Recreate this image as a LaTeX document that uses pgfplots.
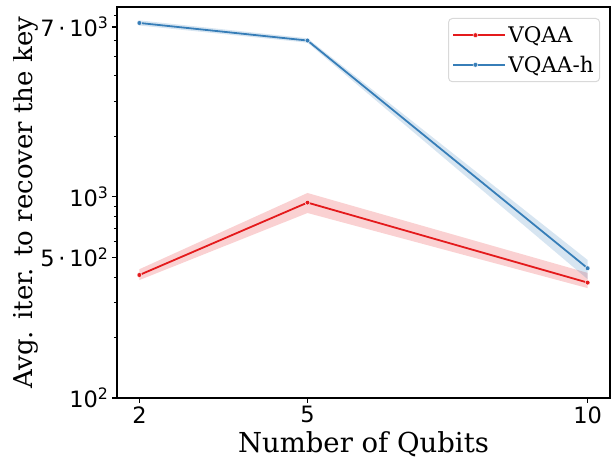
\documentclass[border=0pt]{standalone}
\usepackage{fontspec}
\setmainfont{DejaVu Serif}
\setsansfont{DejaVu Sans}
\usepackage{pgfplots}
\pgfplotsset{compat=1.18}
\definecolor{cred}{RGB}{228,26,28}
\definecolor{cblue}{RGB}{55,126,184}
\begin{document}
\begin{tikzpicture}
\begin{axis}[
  at={(0pt,0pt)}, anchor=south west, scale only axis,
  width=493pt, height=391pt,
  xmin=1.6, xmax=10.4, ymode=log, ymin=100, ymax=8800,
  xtick={2,5,10}, xticklabels={2,5,10},
  ytick={100,500,1000,7000},
  yticklabels={10\textsuperscript{2}, 5\,·\,10\textsuperscript{2}, 10\textsuperscript{3}, 7\,·\,10\textsuperscript{3}},
  minor ytick={200,300,400,600,700,800,900,2000,3000,4000,5000,6000,8000},
  tick align=outside, xtick pos=bottom, ytick pos=left,
  major tick length=5pt, minor tick length=3pt,
  every tick/.style={black, line width=1.1pt},
  minor tick style={line width=0.8pt},
  axis line style={line width=1.1pt},
  tick label style={font=\sffamily\fontsize{22.5}{27}\selectfont},
  xlabel={Number of Qubits}, ylabel={Avg. iter. to recover the key},
  xlabel style={font=\fontsize{27.5}{33}\selectfont, at={(axis description cs:0.5,0)}, anchor=base, yshift=-54pt},
  ylabel style={font=\fontsize{26}{31}\selectfont, at={(axis description cs:-0.1704,0.5)}, anchor=base},
  legend style={at={(0.98,0.972)}, anchor=north east, draw=black!15, rounded corners=4pt,
    line width=1pt, fill=white, font=\fontsize{21.5}{25}\selectfont,
    row sep=8pt, inner xsep=4pt, inner ysep=6pt},
  legend cell align=left,
  legend image code/.code={\path (0pt,0pt) -- (52pt,0pt);\draw[mark repeat=2,mark phase=2,#1] plot coordinates {(0pt,0pt) (22pt,0pt) (44pt,0pt)};},
]
\addplot[fill=cred, fill opacity=0.2, draw=none, forget plot] coordinates {(2,437) (5,1046) (10,419) (10,352) (5,832) (2,386)} -- cycle;
\addplot[fill=cblue, fill opacity=0.2, draw=none, forget plot] coordinates {(2,7550) (5,6150) (10,486) (10,390) (5,5850) (2,7120)} -- cycle;
\addplot[cred, line width=1.8pt, mark=*, mark size=2.4pt, mark options={draw=white, line width=0.4pt, fill=cred}] coordinates {(2,409) (5,937) (10,375)};
\addlegendentry{VQAA}
\addplot[cblue, line width=1.8pt, mark=*, mark size=2.4pt, mark options={draw=white, line width=0.4pt, fill=cblue}] coordinates {(2,7330) (5,5995) (10,442)};
\addlegendentry{VQAA-h}
\end{axis}
\fill[white] (-118pt,-62pt) rectangle (-104pt,399pt);
\pgfresetboundingbox
\path[use as bounding box] (-117pt,-61pt) rectangle (496pt,398pt);
\end{tikzpicture}
\end{document}
